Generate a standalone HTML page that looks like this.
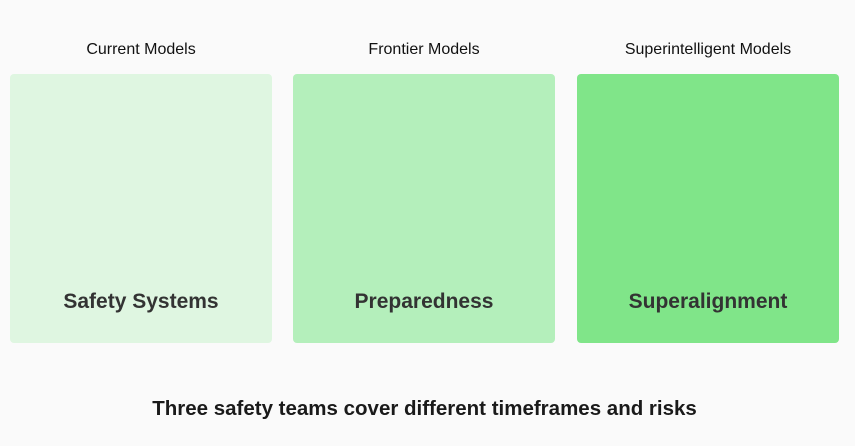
<!DOCTYPE html>
<html><head><style>
html,body{margin:0;padding:0;background:#fafafa;}
body{width:855px;height:446px;position:relative;overflow:hidden;font-family:"Liberation Sans",Arial,sans-serif;}
.l{position:absolute;top:41px;width:262px;text-align:center;font-size:16px;color:#111;}
.b{position:absolute;top:74px;width:262px;height:269px;border-radius:4px;}
.t{position:absolute;top:290px;width:262px;text-align:center;font-size:21px;font-weight:bold;color:#333;}
.c{position:absolute;top:397px;left:0;width:849px;text-align:center;font-size:20.5px;font-weight:bold;color:#1a1a1a;}
</style></head><body>
<div class="l" style="left:10px">Current Models</div>
<div class="l" style="left:293px">Frontier Models</div>
<div class="l" style="left:577px">Superintelligent Models</div>
<div class="b" style="left:10px;background:#dff6e1"></div>
<div class="b" style="left:293px;background:#b4efbb"></div>
<div class="b" style="left:577px;background:#80e589"></div>
<div class="t" style="left:10px">Safety Systems</div>
<div class="t" style="left:293px">Preparedness</div>
<div class="t" style="left:577px">Superalignment</div>
<div class="c">Three safety teams cover different timeframes and risks</div>
</body></html>
